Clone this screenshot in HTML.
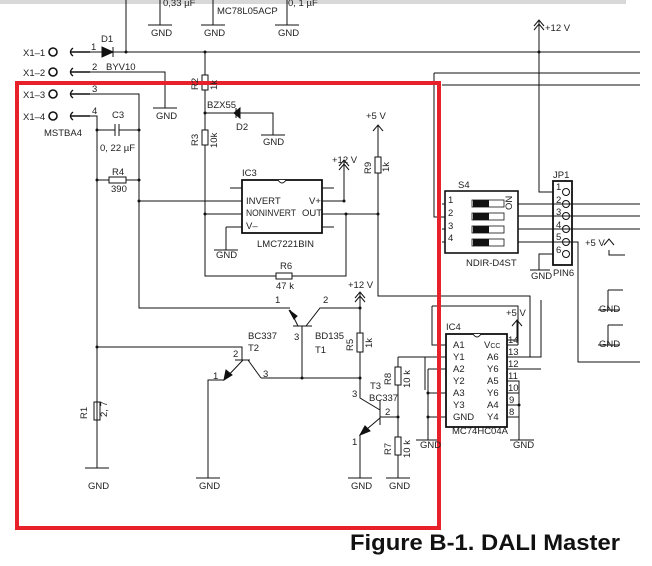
<!DOCTYPE html>
<html><head><style>
html,body{margin:0;padding:0;background:#fff;width:652px;height:566px;overflow:hidden}
svg{display:block}
text{font-family:"Liberation Sans",sans-serif;font-size:9.5px;fill:#222}
</style></head><body>
<svg width="652" height="566" viewBox="0 0 652 566" xmlns="http://www.w3.org/2000/svg">
<rect x="0" y="0" width="626" height="4" fill="#d8d8d8"/>
<g stroke="#111" stroke-width="1" fill="none">
<path d="M126 0V52M160 0V25M213 0V25M287 0V25M148 25h24M201 25h24M275 25h24"/>
<circle cx="53" cy="52" r="4" stroke-width="1.6"/><circle cx="53" cy="72" r="4" stroke-width="1.6"/>
<circle cx="53" cy="94" r="4" stroke-width="1.6"/><circle cx="53" cy="116" r="4" stroke-width="1.6"/>
<path d="M73 48q-5 4 0 8M73 68q-5 4 0 8M73 90q-5 4 0 8M73 112q-5 4 0 8" stroke-width="1.4"/>
<path d="M70 52h20M70 72h20M70 94h20M70 116h20" stroke-width="1.6"/>
<path d="M90 52h12M113 52H640M90 72h75V108M153 108h24M90 94h49V308h146M90 116h7V468M85 468h24"/>
<path d="M102 47v10l11-5zM113 47v10" fill="#111"/>
<path d="M539 20V192h14M534 26l5-6 5 6M534 30l5-6 5 6"/>
<path d="M97 130h18M119 130h20M115 124v12M119 124v12M97 180h12M126 180h13M139 201h103"/>
<rect x="109" y="177" width="17" height="6"/>
<path d="M205 52V75M205 90V130M205 145V276h71M292 276h54V214M205 113h31M240 113h33V135M261 135h24"/>
<rect x="202" y="75" width="6" height="15"/><rect x="202" y="130" width="6" height="15"/><rect x="276" y="273" width="16" height="6"/>
<path d="M240 108v10l-6-5z M236 108v10" fill="#111"/>
<rect x="242" y="180" width="80" height="53" stroke-width="1.8"/>
<path d="M278 180q4 6 8 0" fill="#fff"/>
<path d="M230 188h12M205 214h37M226 227h16M226 227V250M214 250h24M322 188h12M322 201h22V160M322 214h56M322 227h12M339 166l5-6 5 6M339 170l5-6 5 6"/>
<path d="M378 125V157M378 173V296h152V357M373 131l5-6 5 6"/>
<rect x="375" y="157" width="6" height="16"/>
<path d="M293 326h19M302 326V378M290 310l8 16M306 326l14-18h40M360 293V333M360 352V378M261 378h99M355 298l5-6 5 6M355 302l5-6 5 6M285 308h5"/>
<path d="M289 310l8 6-3 3z" fill="#111"/>
<rect x="357" y="333" width="6" height="19"/>
<path d="M97 347h145v13M235 360h15M243 360l-19 20h-16V478M196 478h24M248 360l13 18"/>
<path d="M224 380l2-10 6 5z" fill="#111"/>
<path d="M380 400v25M360 378v20l20 12M380 418l-20 17V478M348 478h24M380 417h18M398 357V367M398 385V437M398 455V478M386 478h24M398 357h48"/>
<path d="M360 435l5-9 5 5z" fill="#111"/>
<rect x="395" y="367" width="6" height="18"/><rect x="395" y="437" width="6" height="18"/>
<rect x="94" y="402" width="6" height="18"/>
<rect x="446" y="334" width="61" height="93" stroke-width="1.8"/>
<path d="M473 334q4 6 8 0" fill="#fff"/>
<path d="M432 306h86V345M432 306V345h14M507 340h10V320M512 326l5-6 5 6M507 345h11M507 357h34V300M507 369h34M507 381h12V440M507 393h12M507 405h12M507 417h12M510 440h24M428 369h18M428 393h18M428 417h18M428 369V440M416 440h24M425 357V390"/>
<rect x="445" y="191" width="73" height="62" stroke-width="1.6"/>
<path d="M434 73H640M442 85H640M434 73V217h11M442 204h3M442 229h3M442 242h3M518 204H640M518 216H640M518 229H640M518 242h60V362H640"/>
<g stroke-width="0.8"><rect x="472" y="200" width="32" height="7"/><rect x="472" y="213" width="32" height="7"/><rect x="472" y="226" width="32" height="7"/><rect x="472" y="239" width="32" height="7"/></g>
<rect x="553" y="181" width="19" height="84" stroke-width="1.8"/>
<circle cx="566" cy="192" r="3.5"/><circle cx="566" cy="204" r="3.5"/><circle cx="566" cy="216" r="3.5"/><circle cx="566" cy="229" r="3.5"/><circle cx="566" cy="242" r="3.5"/><circle cx="566" cy="254" r="3.5"/>
<path d="M553 254h-14V270M530 270h20M609 250V255h16M604 245l5-6 5 6M608 290V310M598 310h22M608 290h15M608 325V345M598 345h22M608 325h15"/>
</g>
<g fill="#111">
<rect x="473" y="200" width="16" height="7"/><rect x="473" y="213" width="16" height="7"/><rect x="473" y="226" width="16" height="7"/><rect x="473" y="239" width="16" height="7"/>
<circle cx="126" cy="52" r="1.5"/><circle cx="205" cy="52" r="1.5"/><circle cx="539" cy="52" r="1.5"/><circle cx="205" cy="113" r="1.5"/>
<circle cx="97" cy="130" r="1.5"/><circle cx="139" cy="130" r="1.5"/><circle cx="97" cy="180" r="1.5"/><circle cx="139" cy="180" r="1.5"/><circle cx="139" cy="201" r="1.5"/>
<circle cx="205" cy="214" r="1.5"/><circle cx="346" cy="214" r="1.5"/><circle cx="378" cy="214" r="1.5"/><circle cx="344" cy="201" r="1.5"/>
<circle cx="97" cy="347" r="1.5"/><circle cx="302" cy="378" r="1.5"/><circle cx="360" cy="378" r="1.5"/><circle cx="360" cy="308" r="1.5"/><circle cx="398" cy="417" r="1.5"/>
<circle cx="428" cy="393" r="1.5"/><circle cx="428" cy="417" r="1.5"/><circle cx="519" cy="405" r="1.5"/>
</g>
<rect x="17" y="83" width="422" height="445" fill="none" stroke="#e8202a" stroke-width="4"/>
<g>
<text x="163" y="6">0,33 µF</text><text x="217" y="14">MC78L05ACP</text><text x="288" y="6">0, 1 µF</text>
<text x="151" y="36">GND</text><text x="204" y="36">GND</text><text x="278" y="36">GND</text>
<text x="23" y="56">X1–1</text><text x="23" y="76">X1–2</text><text x="23" y="98">X1–3</text><text x="23" y="120">X1–4</text>
<text x="44" y="136">MSTBA4</text>
<text x="91" y="50">1</text><text x="92" y="70">2</text><text x="92" y="92">3</text><text x="92" y="114">4</text>
<text x="101" y="42">D1</text><text x="106" y="70">BYV10</text><text x="156" y="119">GND</text>
<text x="112" y="118">C3</text><text x="100" y="151">0, 22 µF</text><text x="112" y="175">R4</text><text x="111" y="192">390</text>
<text x="207" y="108">BZX55</text><text x="236" y="130">D2</text><text x="263" y="145">GND</text>
<text x="242" y="176">IC3</text><text x="246" y="204">INVERT</text><text x="246" y="216" textLength="50" lengthAdjust="spacingAndGlyphs">NONINVERT</text><text x="246" y="229">V–</text>
<text x="309" y="204">V+</text><text x="302" y="216">OUT</text><text x="257" y="247">LMC7221BIN</text><text x="216" y="258">GND</text>
<text x="332" y="163">+12 V</text><text x="366" y="119">+5 V</text>
<text x="280" y="269">R6</text><text x="276" y="289">47 k</text><text x="348" y="288">+12 V</text>
<text x="275" y="303">1</text><text x="323" y="303">2</text><text x="294" y="340">3</text>
<text x="248" y="339">BC337</text><text x="248" y="351">T2</text><text x="315" y="339">BD135</text><text x="315" y="353">T1</text>
<text x="233" y="357">2</text><text x="213" y="379">1</text><text x="263" y="377">3</text>
<text x="370" y="389">T3</text><text x="369" y="401">BC337</text><text x="352" y="397">3</text><text x="385" y="415">2</text><text x="352" y="445">1</text>
<text x="88" y="489">GND</text><text x="199" y="489">GND</text><text x="351" y="489">GND</text><text x="389" y="489">GND</text>
<text x="420" y="448">GND</text><text x="513" y="448">GND</text>
<text x="446" y="330">IC4</text>
<text x="453" y="348">A1</text><text x="453" y="360">Y1</text><text x="453" y="372">A2</text><text x="453" y="384">Y2</text><text x="453" y="396">A3</text><text x="453" y="408">Y3</text><text x="453" y="420">GND</text>
<text x="484" y="348">V<tspan font-size="7">CC</tspan></text><text x="487" y="360">A6</text><text x="487" y="372">Y6</text><text x="487" y="384">A5</text><text x="487" y="396">Y6</text><text x="487" y="408">A4</text><text x="487" y="420">Y4</text>
<text x="508" y="343">14</text><text x="508" y="355">13</text><text x="508" y="367">12</text><text x="508" y="379">11</text><text x="508" y="391">10</text><text x="509" y="403">9</text><text x="509" y="415">8</text>
<text x="452" y="434">MC74HC04A</text><text x="506" y="316">+5 V</text>
<text x="545" y="31">+12 V</text>
<text x="458" y="188">S4</text><text x="448" y="203">1</text><text x="448" y="216">2</text><text x="448" y="229">3</text><text x="448" y="241">4</text>
<text x="466" y="266">NDIR-D4ST</text>
<text x="553" y="178">JP1</text><text x="556" y="190">1</text><text x="556" y="203">2</text><text x="556" y="215">3</text><text x="556" y="228">4</text><text x="556" y="240">5</text><text x="556" y="253">6</text>
<text x="553" y="276">PIN6</text><text x="531" y="279">GND</text><text x="585" y="246">+5 V</text>
<text x="599" y="312">GND</text><text x="599" y="347">GND</text>
<text x="350" y="550" textLength="270" lengthAdjust="spacingAndGlyphs" style="font-size:22px;font-weight:bold;fill:#111">Figure B-1. DALI Master</text>
</g>
<g style="font-size:9px">
<text transform="translate(198 90) rotate(-90)">R2</text><text transform="translate(217 90) rotate(-90)">1k</text>
<text transform="translate(198 146) rotate(-90)">R3</text><text transform="translate(217 148) rotate(-90)">10k</text>
<text transform="translate(371 174) rotate(-90)">R9</text><text transform="translate(389 172) rotate(-90)">1k</text>
<text transform="translate(353 351) rotate(-90)">R5</text><text transform="translate(372 348) rotate(-90)">1k</text>
<text transform="translate(391 385) rotate(-90)">R8</text><text transform="translate(410 388) rotate(-90)">10 k</text>
<text transform="translate(391 455) rotate(-90)">R7</text><text transform="translate(410 458) rotate(-90)">10 k</text>
<text transform="translate(87 419) rotate(-90)">R1</text><text transform="translate(107 417) rotate(-90)">2, 7</text>
<text transform="translate(512 210) rotate(-90)">ON</text>
</g>
</svg>
</body></html>
